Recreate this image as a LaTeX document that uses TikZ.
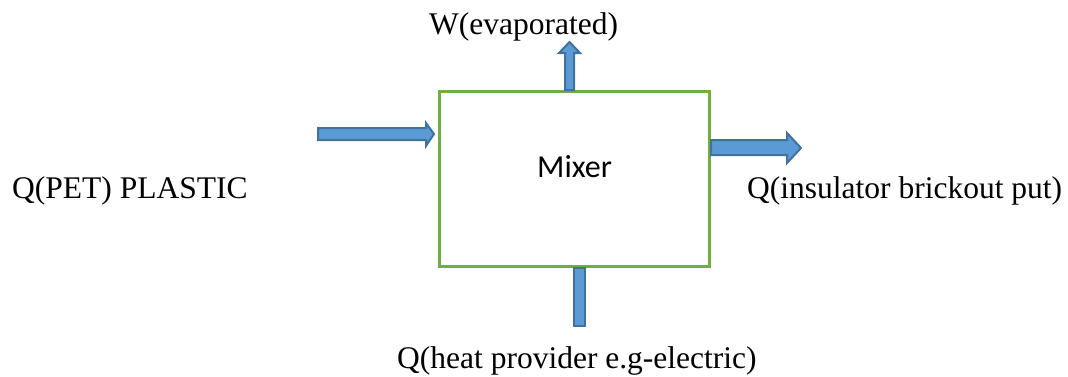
\documentclass[tikz,border=0pt]{standalone}
\usepackage{fontspec}
\setmainfont{Liberation Serif}
\newfontfamily\calib{Carlito}
\begin{document}
\begin{tikzpicture}[x=1pt,y=-1pt,
  blockarrow/.style={fill={rgb,255:red,91;green,155;blue,213},draw={rgb,255:red,65;green,113;blue,156},line width=2pt,line join=miter},
  mixerbox/.style={draw={rgb,255:red,112;green,173;blue,71},line width=3pt,fill=white},
  lbl/.style={font=\fontsize{31.5}{34}\selectfont,inner sep=0pt,anchor=base west}]
\useasboundingbox (0,0) rectangle (1068,376);
% box
\node[mixerbox,minimum width=270pt,minimum height=175pt,inner sep=0pt] (mix) at (574,178.5) {};
\node[inner sep=0pt,anchor=base west,font=\calib\fontsize{32}{34}\selectfont] (mixl) at (537,177) {Mixer};
% arrows
\draw[blockarrow] (318,128) -- (426,128) -- (426,123) -- (434,134) -- (426,146) -- (426,140) -- (318,140) -- cycle;
\draw[blockarrow] (565,90) -- (565,53) -- (559,53) -- (569.5,42) -- (580,53) -- (574,53) -- (574,90) -- cycle;
\draw[blockarrow] (711,140) -- (787,140) -- (787,133) -- (801,148) -- (787,163) -- (787,155) -- (711,155) -- cycle;
\draw[blockarrow] (573.5,268) rectangle (584.5,326);
% labels
\node[lbl] (lin) at (12,198) {Q(PET) PLASTIC};
\node[lbl] (lout) at (747,198) {Q(insulator brickout put)};
\node[lbl] (lheat) at (397,368) {Q(heat provider e.g-electric)};
\node[lbl] (lw) at (429,34) {W(evaporated)};
\end{tikzpicture}
\end{document}
